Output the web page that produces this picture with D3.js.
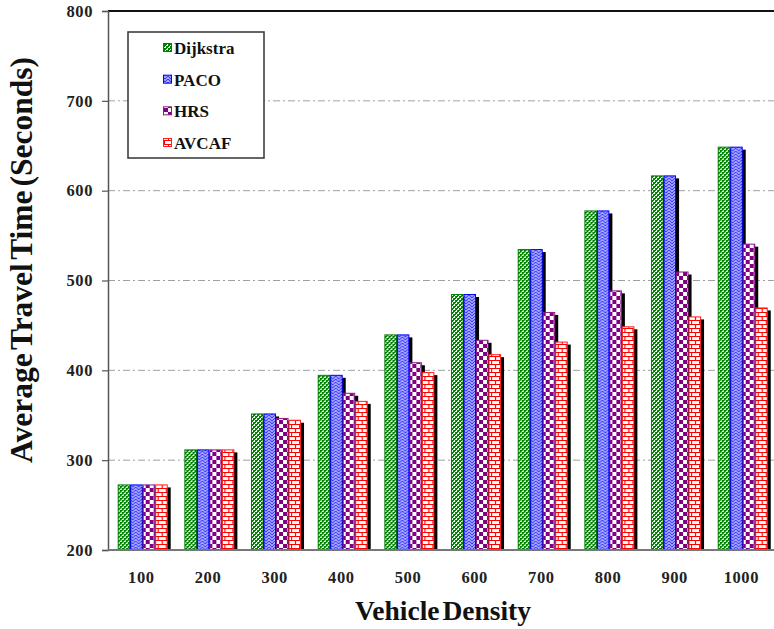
<!DOCTYPE html>
<html>
<head>
<meta charset="utf-8">
<script src="https://cdn.jsdelivr.net/npm/d3@7"></script>
<style>
  html, body { margin: 0; padding: 0; background: #fff; }
  svg { display: block; }
  text { font-family: "Liberation Serif", "Times New Roman", serif; font-weight: bold; }
</style>
</head>
<body>
<svg id="chart" width="774" height="629"></svg>
<script>
// ---- data ----
const categories = ["100", "200", "300", "400", "500", "600", "700", "800", "900", "1000"];
const seriesNames = ["Dijkstra", "PACO", "HRS", "AVCAF"];
const dijkstra = [273, 312, 352, 395, 440, 485, 535, 578, 617, 649];
const paco     = [273, 312, 352, 395, 440, 485, 535, 578, 617, 649];
const hrs      = [273, 312, 347, 375, 409, 434, 465, 489, 510, 541];
const avcaf    = [273, 312, 345, 366, 398, 418, 432, 449, 460, 470];
const yTicks   = [200, 300, 400, 500, 600, 700, 800];
const yTitle = "Average Travel Time (Seconds)";
const xTitle = "Vehicle Density";

const seriesValues = [dijkstra, paco, hrs, avcaf];

// ---- layout ----
const svg = d3.select("#chart");
const plotL = 108, plotR = 774.7, plotT = 11, plotB = 550;

const x = d3.scaleBand().domain(categories).range([plotL, plotR]).paddingInner(0).paddingOuter(0);
const y = d3.scaleLinear().domain([200, 800]).range([plotB, plotT]);
const barW = 12.5;
const groupOffset = 9.7;
const xs = d3.scaleBand().domain(seriesNames).range([0, barW * 4]).padding(0);

// ---- patterns ----
const defs = svg.append("defs");
// Dijkstra: fine green checker
let p = defs.append("pattern").attr("id", "pat0").attr("patternUnits", "userSpaceOnUse").attr("width", 4).attr("height", 4);
p.append("rect").attr("width", 4).attr("height", 4).attr("fill", "#fff");
p.append("rect").attr("x", 0).attr("y", 0).attr("width", 2).attr("height", 2).attr("fill", "#008000");
p.append("rect").attr("x", 2).attr("y", 2).attr("width", 2).attr("height", 2).attr("fill", "#008000");
p.append("rect").attr("x", 0).attr("y", 2).attr("width", 1).attr("height", 1).attr("fill", "#008000");
p.append("rect").attr("x", 2).attr("y", 0).attr("width", 1).attr("height", 1).attr("fill", "#008000");
// PACO: blue zigzag
p = defs.append("pattern").attr("id", "pat1").attr("patternUnits", "userSpaceOnUse").attr("width", 6).attr("height", 6);
p.append("rect").attr("width", 6).attr("height", 6).attr("fill", "#c8c8ff");
p.append("path").attr("d", "M0,1 L3,4 L6,1 M0,4 L3,7 L6,4 M0,-2 L3,1 L6,-2").attr("stroke", "#3a3aff").attr("stroke-width", 1.1).attr("fill", "none");
// HRS: purple checkerboard
p = defs.append("pattern").attr("id", "pat2").attr("patternUnits", "userSpaceOnUse").attr("width", 8).attr("height", 8);
p.append("rect").attr("width", 8).attr("height", 8).attr("fill", "#fff");
p.append("rect").attr("x", 0).attr("y", 0).attr("width", 4).attr("height", 4).attr("fill", "#800080");
p.append("rect").attr("x", 4).attr("y", 4).attr("width", 4).attr("height", 4).attr("fill", "#800080");
// AVCAF: red brick
p = defs.append("pattern").attr("id", "pat3").attr("patternUnits", "userSpaceOnUse").attr("width", 8).attr("height", 8);
p.append("rect").attr("width", 8).attr("height", 8).attr("fill", "#fff");
p.append("path").attr("d", "M0,0.5 H8 M0,4.5 H8 M0.5,0.5 V4.5 M4.5,4.5 V8.5").attr("stroke", "#ff0000").attr("stroke-width", 1.2).attr("fill", "none");

const strokes = ["#008000", "#0000ff", "#8a1a8a", "#ff2020"];

// ---- gridlines ----
svg.append("g").selectAll("line")
  .data(yTicks.filter(d => d > 200 && d < 800))
  .join("line")
  .attr("x1", plotL).attr("x2", 774)
  .attr("y1", d => y(d)).attr("y2", d => y(d))
  .attr("stroke", "#a0a0a0").attr("stroke-width", 1)
  .attr("stroke-dasharray", "7,3,2,3");

// top border
svg.append("line").attr("x1", plotL).attr("x2", 774).attr("y1", y(800)).attr("y2", y(800))
  .attr("stroke", "#111").attr("stroke-width", 1.8);

// ---- bars ----
const groups = svg.append("g").selectAll("g")
  .data(categories)
  .join("g")
  .attr("transform", d => `translate(${x(d) + groupOffset},0)`);

groups.each(function(cat, ci) {
  const g = d3.select(this);
  seriesNames.forEach((s, si) => {
    const v = seriesValues[si][ci];
    const bx = xs(s);
    const by = y(v);
    g.append("rect")
      .attr("x", bx + 3).attr("y", by + 3)
      .attr("width", barW).attr("height", plotB - by - 3)
      .attr("fill", "#000");
    g.append("rect")
      .attr("x", bx + 0.5).attr("y", by + 0.5)
      .attr("width", barW - 1).attr("height", plotB - by - 0.5)
      .attr("fill", `url(#pat${si})`)
      .attr("stroke", strokes[si]).attr("stroke-width", 1);
  });
});

// ---- axes ----
const yAxis = d3.axisLeft(y).tickValues(yTicks).tickSize(6).tickPadding(9).tickFormat(d3.format("d"));
const yg = svg.append("g").attr("transform", `translate(${plotL},0)`).call(yAxis);
yg.select(".domain").attr("stroke", "#555").attr("stroke-width", 1.5);
yg.selectAll(".tick line").attr("stroke", "#555").attr("stroke-width", 1.2);
yg.selectAll(".tick text").attr("font-size", 16.5).attr("fill", "#222")
  .attr("font-family", "Liberation Serif, serif").attr("font-weight", "bold")
  .style("letter-spacing", "0.6px");

// bottom axis line
svg.append("line").attr("x1", plotL).attr("x2", 774).attr("y1", plotB).attr("y2", plotB)
  .attr("stroke", "#777").attr("stroke-width", 2);

const xAxis = d3.axisBottom(x).tickSize(0).tickPadding(0);
const xg = svg.append("g").attr("transform", `translate(0,${plotB})`).call(xAxis);
xg.select(".domain").remove();
xg.selectAll(".tick text").attr("font-size", 16.5).attr("fill", "#222")
  .attr("font-family", "Liberation Serif, serif").attr("font-weight", "bold")
  .attr("dy", null).attr("y", 33)
  .style("letter-spacing", "0.6px");

// ---- titles ----
svg.append("text")
  .attr("x", 443).attr("y", 620)
  .attr("text-anchor", "middle")
  .attr("font-size", 27.5).attr("fill", "#111")
  .style("word-spacing", "-4px")
  .text(xTitle);

svg.append("text")
  .attr("transform", "rotate(-90)")
  .attr("x", -260).attr("y", 32)
  .attr("text-anchor", "middle")
  .attr("font-size", 31.5).attr("fill", "#111")
  .style("word-spacing", "-4px")
  .text(yTitle);

// ---- legend ----
const lg = svg.append("g");
lg.append("rect").attr("x", 128).attr("y", 32).attr("width", 136).attr("height", 126)
  .attr("fill", "#fff").attr("stroke", "#333").attr("stroke-width", 1.5);
const legendY = d3.scalePoint().domain(seriesNames).range([48, 143]);
seriesNames.forEach((s, si) => {
  const ly = legendY(s);
  lg.append("rect").attr("x", 163.5).attr("y", ly - 4.5).attr("width", 8).attr("height", 8)
    .attr("fill", `url(#pat${si})`).attr("stroke", strokes[si]).attr("stroke-width", 1);
  lg.append("text").attr("x", 174).attr("y", ly + 6)
    .attr("font-size", 17).attr("fill", "#111").text(s);
});
</script>
</body>
</html>
